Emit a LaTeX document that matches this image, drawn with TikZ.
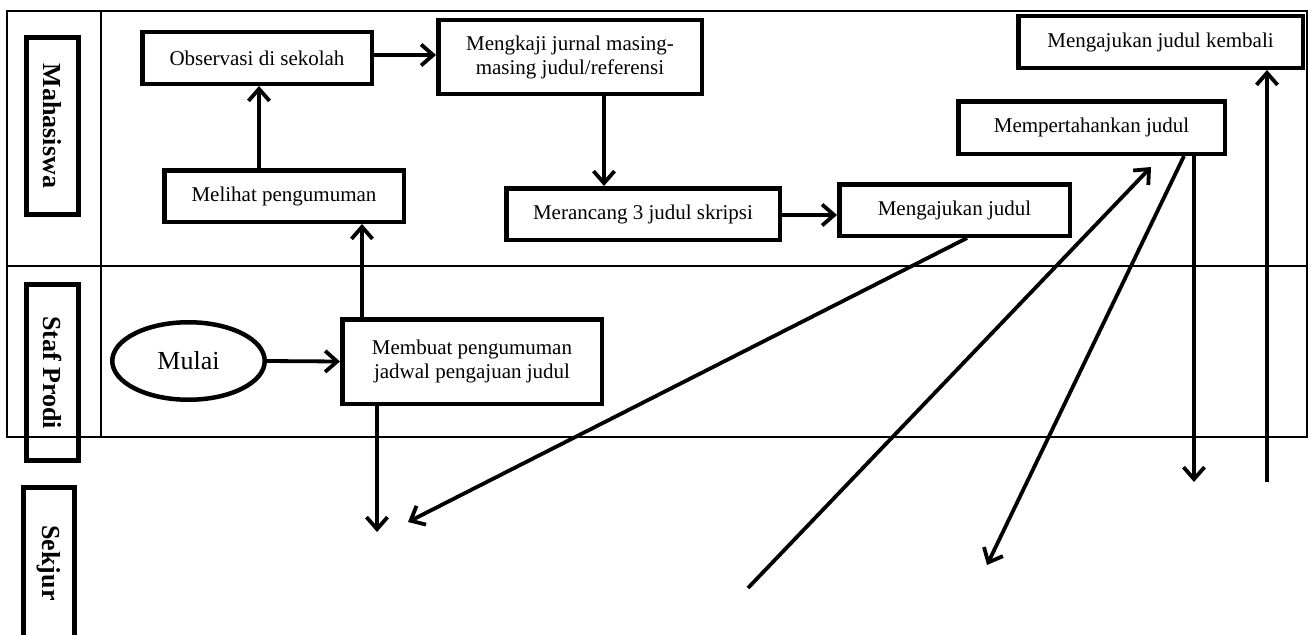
\documentclass[tikz,border=0pt]{standalone}
\usepackage{fontspec}
\setmainfont{Liberation Serif}
\usetikzlibrary{arrows.meta,shapes.geometric}

\begin{document}
\begin{tikzpicture}[x=1pt,y=-1pt,
  box/.style={draw,line width=4.5pt,rectangle,align=center,inner sep=0pt,
    font=\fontsize{21}{24}\selectfont},
  lane/.style={draw,line width=4.5pt,rectangle,rotate=-90,inner sep=0pt,
    minimum height=52pt,font=\fontsize{26}{30}\selectfont\bfseries},
  flow/.style={line width=3.8pt,-{Straight Barb[length=12pt,width=21pt]}},
  frame/.style={line width=2.3pt}]

\useasboundingbox (0,0) rectangle (1308,634);

% swimlane frame
\draw[frame] (7,11) rectangle (1307,437);
\draw[frame] (7,266) -- (1307,266);
\draw[frame] (101,11) -- (101,437);

% lane labels
\node[lane,minimum width=177pt] (lmhs) at (52.5,126) {Mahasiswa};
\node[lane,minimum width=176pt] (lstaf) at (52.5,372.5) {Staf Prodi};
\node[lane,minimum width=151pt,minimum height=51pt] (lsek) at (49,563) {Sekjur};

% process steps
\node[box,minimum width=229.5pt,minimum height=51.5pt] (obs) at (257,58) {Observasi di sekolah};
\node[box,minimum width=239.5pt,minimum height=51.5pt] (lihat) at (284,196) {Melihat pengumuman};
\node[box,minimum width=263.5pt,minimum height=73.5pt] (kaji) at (570,57) {Mengkaji jurnal masing-\\masing judul/referensi};
\node[box,minimum width=273.5pt,minimum height=51.5pt] (rancang) at (643,214) {Merancang 3 judul skripsi};
\node[box,minimum width=230.5pt,minimum height=51.5pt] (ajukan) at (954.5,210) {Mengajukan judul};
\node[box,minimum width=266.5pt,minimum height=52.5pt] (tahan) at (1091.5,127.5) {Mempertahankan judul};
\node[box,minimum width=284.5pt,minimum height=51.5pt] (kembali) at (1160.5,42) {Mengajukan judul kembali};
\node[box,minimum width=259.5pt,minimum height=84.5pt] (buat) at (472,361.5) {Membuat pengumuman\\jadwal pengajuan judul};
\node[draw,ellipse,line width=4.5pt,inner sep=0pt,minimum width=152.5pt,minimum height=77.5pt,
  font=\fontsize{26}{30}\selectfont] (mulai) at (188.5,361) {Mulai};

% loose ends of the connectors
\coordinate (e1) at (377,532);
\coordinate (e2) at (408,522);
\coordinate (e3) at (748,588);
\coordinate (e4) at (1151,167);
\coordinate (e5) at (987,565);
\coordinate (e6) at (1194,482);
\coordinate (e7) at (1267,482);

% connectors
\draw[flow] (mulai.east) -- (buat.west);
\draw[flow] (buat.north -| 362,0) -- (lihat.south -| 362,0);
\draw[flow] (lihat.north -| 259,0) -- (obs.south -| 259,0);
\draw[flow] (obs.east |- 0,55) -- (kaji.west |- 0,55);
\draw[flow] (kaji.south -| 604,0) -- (rancang.north -| 604,0);
\draw[flow] (rancang.east |- 0,215) -- (ajukan.west |- 0,215);
\draw[flow] (buat.south -| 377,0) -- (e1);
\draw[flow] (ajukan.south -| 967,0) -- (e2);
\draw[flow] (e3) -- (e4);
\draw[flow] (tahan.south -| 1184,0) -- (e5);
\draw[flow] (tahan.south -| 1194,0) -- (e6);
\draw[flow] (e7) -- (kembali.south -| 1267,0);
\end{tikzpicture}
\end{document}
